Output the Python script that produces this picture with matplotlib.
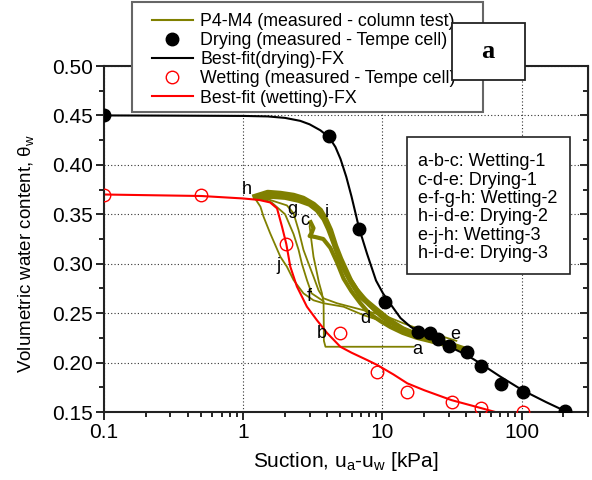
import matplotlib
matplotlib.use("Agg")
import matplotlib.pyplot as plt
from matplotlib.patches import Rectangle
from matplotlib.ticker import FixedLocator, FuncFormatter, MultipleLocator, LogLocator, NullFormatter

plt.rcParams['font.family'] = ['Liberation Sans', 'DejaVu Sans']
plt.rcParams['mathtext.fontset'] = 'custom'
plt.rcParams['mathtext.rm'] = 'Liberation Sans'
plt.rcParams['mathtext.it'] = 'Liberation Sans'

# ---- measured Tempe cell data ----
dry_x = [0.1, 4.14, 6.8, 10.5, 17.9, 21.9, 25.2, 30.3, 40.7, 50.7, 70.6, 101.6, 205]
dry_y = [0.450, 0.429, 0.335, 0.261, 0.231, 0.2297, 0.2236, 0.2168, 0.211, 0.197, 0.178, 0.170, 0.151]
wet_x = [0.1, 0.5, 2.04, 5.0, 9.2, 15.1, 31.4, 51, 101.6]
wet_y = [0.370, 0.370, 0.320, 0.230, 0.190, 0.170, 0.160, 0.154, 0.150]

# ---- best fit curves ----
fitd_x = [0.1, 0.3, 1, 1.5, 2, 2.57, 3.0, 3.58, 4.14, 4.6, 5.0, 5.5, 6.0, 6.8, 7.76, 9.0, 10.1, 12,
          13.5, 16, 19.8, 25, 30.3, 40, 50.7, 70, 101.6, 150, 205, 260]
fitd_y = [0.450, 0.4498, 0.4495, 0.449, 0.4475, 0.4445, 0.441, 0.435, 0.428, 0.418, 0.406, 0.388, 0.368,
          0.336, 0.310, 0.283, 0.270, 0.255, 0.245, 0.236, 0.228, 0.222, 0.216, 0.208, 0.199, 0.186,
          0.172, 0.160, 0.151, 0.144]
fitw_x = [0.1, 0.5, 1.0, 1.3, 1.56, 1.75, 1.9, 2.04, 2.18, 2.43, 2.87, 3.38, 4.0, 4.99, 6.0, 7.76, 9.2,
          12, 15.1, 20, 31.4, 51, 70]
fitw_y = [0.370, 0.3685, 0.366, 0.3645, 0.362, 0.356, 0.3375, 0.320, 0.297, 0.277, 0.2565, 0.243, 0.230,
          0.216, 0.210, 0.2026, 0.1975, 0.188, 0.179, 0.172, 0.162, 0.154, 0.1487]

# ---- column test (P4-M4) paths ----
w1_x = [16.8, 3.9, 3.8, 3.78, 3.68, 3.5, 3.35, 3.2, 3.08, 3.0, 3.05]
w1_y = [0.216, 0.216, 0.222, 0.260, 0.270, 0.281, 0.294, 0.307, 0.325, 0.338, 0.342]
d1_x = [3.05, 3.2, 3.1, 3.0, 3.3, 3.76, 4.23, 4.7, 5.26, 6.0, 6.95, 8.0, 9.67, 11.4, 14, 17.7, 24.7, 34.5, 40]
d1_y = [0.342, 0.336, 0.331, 0.328, 0.327, 0.325, 0.316, 0.302, 0.285, 0.272, 0.260, 0.250, 0.242, 0.236,
        0.230, 0.225, 0.220, 0.215, 0.213]
d2_x = [1.22, 1.5, 1.85, 2.3, 2.7, 3.2, 3.58, 3.9, 4.23, 4.6, 5.0, 5.89, 6.95, 7.36, 9.14, 11.4, 14,
        17.7, 24.7, 34.5, 40]
d2_y = [0.368, 0.372, 0.371, 0.369, 0.366, 0.360, 0.354, 0.345, 0.334, 0.318, 0.305, 0.283, 0.267, 0.264,
        0.253, 0.242, 0.234, 0.228, 0.222, 0.216, 0.213]
d3_x = [1.3, 1.6, 2.0, 2.5, 3.0, 3.4, 3.8, 4.1, 4.5, 5.0, 5.6, 6.5, 8.0, 10, 13, 17, 24, 34]
d3_y = [0.366, 0.368, 0.367, 0.364, 0.360, 0.354, 0.345, 0.335, 0.320, 0.302, 0.288, 0.274, 0.259, 0.246,
        0.236, 0.228, 0.221, 0.215]
w2_x = [34, 20, 14, 10.8, 7.3, 4.72, 3.78, 3.48, 3.2, 2.95, 2.71, 2.5, 2.3, 2.06, 1.56, 1.28]
w2_y = [0.222, 0.232, 0.240, 0.2465, 0.253, 0.260, 0.265, 0.273, 0.287, 0.300, 0.314, 0.334, 0.351, 0.359,
        0.3645, 0.368]
w2b_x = [3.78, 3.1, 2.87, 2.64, 2.5, 2.3, 2.0, 1.6, 1.3]
w2b_y = [0.262, 0.270, 0.2835, 0.300, 0.314, 0.330, 0.350, 0.362, 0.367]
w3_x = [34, 20, 14, 10.2, 7.3, 5.26, 3.78, 3.2, 2.71, 2.3, 2.06, 1.85, 1.56, 1.4, 1.33, 1.19]
w3_y = [0.218, 0.228, 0.235, 0.2414, 0.248, 0.2565, 0.260, 0.263, 0.270, 0.2835, 0.297, 0.307, 0.331,
        0.3476, 0.3577, 0.368]

pt_labels = ['a', 'b', 'c', 'd', 'e', 'f', 'g', 'h', 'i', 'j']
pt_x = [17.8, 3.68, 2.75, 7.53, 33.5, 3.0, 2.24, 1.06, 4.0, 1.80]
pt_y = [0.2135, 0.2296, 0.344, 0.245, 0.228, 0.267, 0.355, 0.375, 0.352, 0.298]

legend_labels = ['P4-M4 (measured - column test)', 'Drying (measured - Tempe cell)',
                 'Best-fit(drying)-FX', 'Wetting (measured - Tempe cell)', 'Best-fit (wetting)-FX']
box_lines = ['a-b-c: Wetting-1', 'c-d-e: Drying-1', 'e-f-g-h: Wetting-2',
             'h-i-d-e: Drying-2', 'e-j-h: Wetting-3', 'h-i-d-e: Drying-3']

x_ticks = [0.1, 1, 10, 100]
y_ticks = [0.15, 0.20, 0.25, 0.30, 0.35, 0.40, 0.45, 0.50]

W, H = 592, 480
fig = plt.figure(figsize=(W / 100, H / 100), dpi=100)
ax = fig.add_axes([104 / W, 1 - 412 / H, (588 - 104) / W, (412 - 66) / H])

olive = '#808000'
ax.plot(w1_x, w1_y, color=olive, lw=1.3)
ax.plot(w2_x, w2_y, color=olive, lw=1.3)
ax.plot(w2b_x, w2b_y, color=olive, lw=1.3)
ax.plot(w3_x, w3_y, color=olive, lw=1.3)
ax.plot(d1_x, d1_y, color=olive, lw=3.0)
ax.plot(d3_x, d3_y, color=olive, lw=3.5)
h_col, = ax.plot(d2_x, d2_y, color=olive, lw=4.0)

h_fd, = ax.plot(fitd_x, fitd_y, color='black', lw=1.5)
h_fw, = ax.plot(fitw_x, fitw_y, color='#ff0000', lw=1.5)
h_dry, = ax.plot(dry_x, dry_y, 'o', color='black', ms=9, zorder=5)
h_wet, = ax.plot(wet_x, wet_y, 'o', mfc='none', mec='#ff0000', mew=1.0, ms=9, zorder=5)

for lab, lx, ly in zip(pt_labels, pt_x, pt_y):
    ax.text(lx, ly, lab, fontsize=13, ha='center', va='center', zorder=6)

ax.set_xscale('log')
ax.set_xlim(0.1, 300)
ax.set_ylim(0.15, 0.50)
ax.xaxis.set_major_locator(FixedLocator(x_ticks))
ax.xaxis.set_major_formatter(FuncFormatter(lambda v, p: ('%g' % v)))
ax.xaxis.set_minor_locator(LogLocator(base=10, subs=range(2, 10)))
ax.xaxis.set_minor_formatter(NullFormatter())
ax.yaxis.set_major_locator(FixedLocator(y_ticks))
ax.yaxis.set_major_formatter(FuncFormatter(lambda v, p: '%.2f' % v))
ax.yaxis.set_minor_locator(MultipleLocator(0.025))

ax.tick_params(which='both', direction='out', top=False, right=False, labelsize=15, width=1.2, pad=2)
ax.tick_params(which='major', length=6)
ax.tick_params(which='minor', length=3.5)
ax.grid(True, which='major', color='#333333', linestyle=(0, (1, 2)), lw=0.8)
for s in ax.spines.values():
    s.set_linewidth(1.5)
    s.set_color('#222222')

# inward ticks on right side
axr = ax.secondary_yaxis('right')
axr.yaxis.set_major_locator(FixedLocator(y_ticks))
axr.yaxis.set_minor_locator(MultipleLocator(0.025))
axr.tick_params(which='both', direction='in', labelright=False, width=1.2)
axr.tick_params(which='major', length=6)
axr.tick_params(which='minor', length=3.5)

ax.set_xlabel(r'Suction, u$_\mathregular{a}$-u$_\mathregular{w}$ [kPa]', fontsize=15, labelpad=6)
ax.set_ylabel(r'Volumetric water content, $\mathregular{\theta_w}$', fontsize=13.5)
ax.yaxis.set_label_coords(-0.140, 0.457)

# legend frame drawn separately, legend content placed inside
fig.add_artist(Rectangle((132 / W, 1 - 112 / H), (483 - 132) / W, 110 / H, transform=fig.transFigure,
                         facecolor='white', edgecolor='#666666', lw=1.5, zorder=4))
leg = fig.legend([h_col, h_dry, h_fd, h_wet, h_fw], legend_labels,
                 loc='upper left', bbox_to_anchor=(152 / W, 1 - 13 / H), fontsize=12.8,
                 frameon=False, borderpad=0, handlelength=2.3,
                 handletextpad=0.4, labelspacing=0.12, borderaxespad=0)
leg.set_zorder(5)
for lh in leg.get_lines():
    lh.set_linewidth(1.5)

# "a" box
fig.add_artist(Rectangle((452 / W, 1 - 80 / H), 73 / W, 57 / H, transform=fig.transFigure,
                         facecolor='white', edgecolor='#222222', lw=1.3, zorder=10))
fig.text(488 / W, 1 - 52 / H, 'a', fontsize=19, fontweight='bold', family='Liberation Serif',
         ha='center', va='center', zorder=11)

# annotation box
fig.add_artist(Rectangle((407 / W, 1 - 274 / H), 163 / W, 137 / H, transform=fig.transFigure,
                         facecolor='white', edgecolor='#222222', lw=1.2, zorder=10))
for i, t in enumerate(box_lines):
    fig.text(418 / W, 1 - (162 + i * 18.3) / H, t, fontsize=13, ha='left', va='center', zorder=11)

fig.savefig('out.png', dpi=100)
